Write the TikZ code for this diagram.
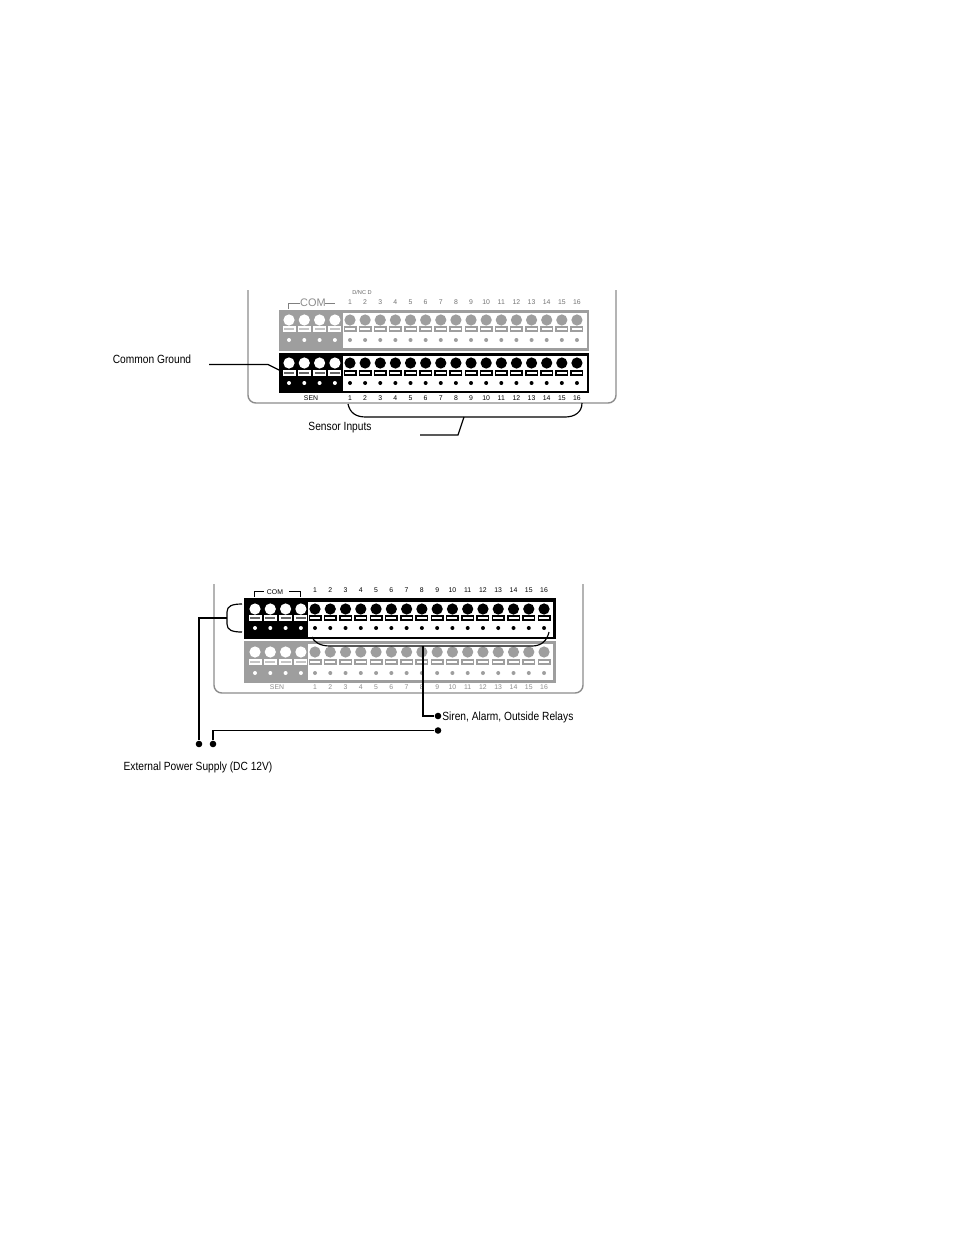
\documentclass[tikz,border=0pt]{standalone}
\usepackage{fontspec}
\setmainfont{Liberation Sans}
\usetikzlibrary{calc}
\definecolor{termgray}{gray}{0.62}
\tikzset{
	housing/.style={line width=0.9pt, color=black!45, rounded corners=5},
	wire/.style={line width=0.75pt, color=black},
	pin/.style={fill=black},
	callout/.style={inner sep=0pt, font=\fontsize{7.6}{9}\selectfont, xscale=0.86},
	tinynum/.style={inner sep=0pt, font=\fontsize{4.4}{5}\selectfont}
}
% colour, y of circle, y of slot, y of dot, x of first common, x of first input, input pitch
\def\termrow#1#2#3#4#5#6#7{
	\foreach \i in {0,...,3}{
		\fill[white] ({#5+\i*15.3},#2) circle (5.6);
		\fill[white] ({#5+\i*15.3-6.5},#3-3) rectangle ({#5+\i*15.3+6.5},#3+3);
		\fill[#1!60!white] ({#5+\i*15.3-5},#3-0.8) rectangle ({#5+\i*15.3+5},#3+0.8);
		\fill[white] ({#5+\i*15.3},#4) circle (2);
	}
	\foreach \i in {0,...,15}{
		\fill[#1] ({#6+\i*#7},#2) circle (5.6);
		\fill[#1] ({#6+\i*#7-6.5},#3-3) rectangle ({#6+\i*#7+6.5},#3+3);
		\fill[white] ({#6+\i*#7-5},#3-1.2) rectangle ({#6+\i*#7+5},#3+1.2);
		\fill[#1] ({#6+\i*#7},#4) circle (2);
	}
}
\begin{document}
\begin{tikzpicture}[x=0.64pt, y=-0.64pt]
	%%%%% START %%%%%
	\useasboundingbox[fill=white] (0, 0) rectangle (954, 1235);

	% upper panel
	\draw[housing] (248, 290) -- (248, 403) -- (616, 403) -- (616, 290);

	\fill[termgray] (279, 310) rectangle (589, 351);
	\fill[white] (343, 313) rectangle (586.5, 348);
	\termrow{termgray}{320}{329}{340}{289}{350}{15.13}

	\fill[black] (279, 353) rectangle (589, 393);
	\fill[white] (343, 356) rectangle (586.5, 390.5);
	\termrow{black}{363}{373}{383}{289}{350}{15.13}

	\foreach \i [evaluate=\i as \n using int(\i+1)] in {0,...,15}{
		\node[tinynum, text=black!55] (upnum\n) at ({350+\i*15.13}, 302) {\n};
		\node[tinynum] (sennum\n) at ({350+\i*15.13}, 398) {\n};
	}
	\node[inner sep=0pt, text=black!60, font=\fontsize{3.6}{4}\selectfont] (upnote) at (362, 292) {D/NC D};
	\node[inner sep=0pt, text=black!45, font=\fontsize{7}{8}\selectfont] (upcom) at (313, 303) {COM};
	\draw[line width=0.3pt, color=black!50] (288, 309) -- (288, 303) -- (300, 303);
	\draw[line width=0.3pt, color=black!50] (325, 303) -- (335, 303);
	\node[tinynum] (upsen) at (311, 398) {SEN};

	\node[callout] (ground) at (152, 359) {Common Ground};
	\coordinate (groundfrom) at (209, 364.5);
	\coordinate (groundto) at (279, 370);
	\draw[wire] (groundfrom) -- (268, 364.5) -- (groundto);

	\node[callout] (inputs) at (340, 428) {Sensor Inputs};
	\coordinate (inleft) at (348, 404);
	\coordinate (inright) at (582, 403);
	\coordinate (inmid) at (464, 417);
	\coordinate (inend) at (420, 435);
	\draw[wire] (inleft) .. controls (350, 413) and (356, 417) .. (366, 417) -- (565, 417) .. controls (575, 417) and (582, 412) .. (inright);
	\draw[wire] (inmid) -- (458, 435) -- (inend);

	% lower panel
	\draw[housing] (214, 584) -- (214, 693) -- (583, 693) -- (583, 584);

	\fill[black] (244, 598) rectangle (556, 639);
	\fill[white] (308, 602) rectangle (553, 636.5);
	\termrow{black}{609}{618}{628}{255}{315}{15.27}

	\fill[termgray] (244, 641) rectangle (556, 683);
	\fill[white] (308, 644) rectangle (553, 680);
	\termrow{termgray}{652}{662}{673}{255}{315}{15.27}

	\foreach \i [evaluate=\i as \n using int(\i+1)] in {0,...,15}{
		\node[tinynum] (relnum\n) at ({315+\i*15.27}, 590) {\n};
		\node[tinynum, text=black!45] (lownum\n) at ({315+\i*15.27}, 687) {\n};
	}
	\node[tinynum] (lowcom) at (275, 592.5) {COM};
	\draw[line width=0.3pt] (254, 597) -- (254, 591) -- (264, 591);
	\draw[line width=0.3pt] (289, 591) -- (300, 591) -- (300, 597);
	\node[tinynum, text=black!45] (lowsen) at (277, 687.5) {SEN};

	\node[pin, circle, inner sep=0pt, minimum size=4.2pt] (dotplus) at (199, 744) {};
	\node[pin, circle, inner sep=0pt, minimum size=4.2pt] (dotminus) at (213, 744) {};
	\node[pin, circle, inner sep=0pt, minimum size=4.2pt] (dotsiren) at (438, 716) {};
	\node[pin, circle, inner sep=0pt, minimum size=4.2pt] (dotpower) at (438, 730.5) {};

	\coordinate (comtop) at (242, 604);
	\coordinate (combot) at (242, 632);
	\coordinate (commid) at (227, 618);
	\draw[wire] (comtop) .. controls (232, 604) and (227, 606) .. (227, 612) -- (227, 624) .. controls (227, 630) and (232, 632) .. (combot);
	\draw[wire] (commid) -- (199, 618) -- (dotplus);
	\draw[wire] (dotminus) -- (213, 730.5) -- (dotpower);

	\coordinate (relleft) at (312, 637);
	\coordinate (relright) at (549, 632);
	\coordinate (relmid) at (423, 646);
	\draw[wire] (relleft) .. controls (314, 642) and (320, 646) .. (330, 646) -- (532, 646) .. controls (541, 646) and (547, 641) .. (relright);
	\draw[wire] (relmid) -- (423, 716) -- (dotsiren);

	\node[callout, anchor=west] (siren) at (442, 717) {Siren, Alarm, Outside Relays};
	\node[callout] (power) at (198, 767.5) {External Power Supply (DC 12V)};
	%%%%% END %%%%%
\end{tikzpicture}
\end{document}
